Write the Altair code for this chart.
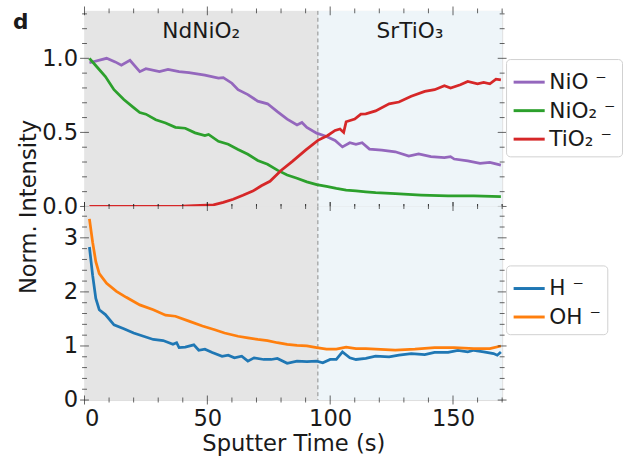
import altair as alt
import pandas as pd

# ---------------- data ----------------
nio_t = [2, 9, 12.5, 15, 18.5, 22.5, 25, 30.5, 34, 38.5, 42.5, 49, 54.5, 56.5, 60, 62.5, 66.5,
         70.5, 74.5, 78.5, 82.5, 86.5, 88.5, 90.5, 94.5, 98.5, 102, 105, 108, 110.5, 113, 116,
         121, 126.5, 132, 136, 141, 146.5, 149, 150.5, 156, 161, 165, 169.5]
nio_v = [0.97, 1.0, 0.976, 0.954, 0.987, 0.91, 0.93, 0.91, 0.925, 0.91, 0.903, 0.887, 0.866,
         0.87, 0.832, 0.788, 0.755, 0.711, 0.693, 0.64, 0.59, 0.55, 0.567, 0.534, 0.495, 0.472,
         0.446, 0.402, 0.43, 0.42, 0.43, 0.387, 0.38, 0.369, 0.34, 0.354, 0.336, 0.329, 0.336,
         0.32, 0.307, 0.291, 0.298, 0.279]

nio2_t = [2, 5, 8.5, 12, 16, 20, 22.5, 25, 29, 33, 37, 41, 45, 49, 50.5, 54.5, 58.5, 62.5, 66.5,
          70.5, 74.5, 78.5, 82.5, 86.5, 90.5, 94.5, 98.5, 102.5, 106.5, 110.5, 114.5, 118.5,
          126.5, 137, 148, 158.5, 169.5]
nio2_v = [1.0, 0.943, 0.877, 0.788, 0.722, 0.667, 0.634, 0.623, 0.585, 0.563, 0.534, 0.528,
          0.497, 0.479, 0.486, 0.44, 0.42, 0.385, 0.352, 0.31, 0.285, 0.245, 0.212, 0.19,
          0.166, 0.148, 0.135, 0.122, 0.111, 0.105, 0.099, 0.093, 0.086, 0.077, 0.071, 0.071,
          0.066]

tio2_t = [2, 20, 40, 44.5, 52.5, 56.5, 60.5, 64.5, 68.5, 72, 75.5, 80, 84.5, 90, 95, 99, 102,
          104, 105.5, 106.5, 110, 112.5, 114.5, 118.5, 124, 128, 133, 138.5, 142.5, 146.5,
          149, 153, 156, 160, 162.5, 165, 167.5, 169.5]
tio2_v = [0.0, 0.0, 0.002, 0.005, 0.011, 0.028, 0.049, 0.075, 0.104, 0.14, 0.17, 0.243, 0.303,
          0.38, 0.446, 0.479, 0.513, 0.523, 0.5, 0.572, 0.59, 0.623, 0.625, 0.645, 0.693,
          0.705, 0.744, 0.777, 0.788, 0.815, 0.8, 0.821, 0.844, 0.828, 0.837, 0.828, 0.859, 0.854]

h_t = [2, 3.3, 4.6, 6, 8.5, 12, 16, 20, 24, 28, 32, 36, 37.5, 38.5, 41, 44.5, 46.5, 49, 52, 56,
       58.5, 61, 64, 66.5, 69, 73, 76, 78.5, 82.5, 86.5, 90.5, 94.5, 97, 100, 102.5, 105, 108,
       110.5, 114.5, 118.5, 124, 128, 133, 138.5, 142.5, 148, 152, 156, 158.5, 162.5, 166.5,
       168, 169.5]
h_v = [2.83, 2.31, 1.88, 1.67, 1.58, 1.39, 1.32, 1.24, 1.18, 1.12, 1.10, 1.03, 1.06, 0.97, 0.98,
       1.02, 0.92, 0.94, 0.88, 0.81, 0.83, 0.78, 0.81, 0.72, 0.78, 0.75, 0.75, 0.77, 0.68, 0.72,
       0.71, 0.72, 0.69, 0.75, 0.75, 0.89, 0.78, 0.75, 0.77, 0.81, 0.80, 0.83, 0.86, 0.84, 0.88,
       0.88, 0.92, 0.89, 0.92, 0.89, 0.86, 0.83, 0.89]

oh_t = [2, 3.3, 4.6, 6, 9, 13, 17, 22.5, 28, 33, 37, 42.5, 48, 53, 57, 62.5, 66.5, 70.5, 74.5,
        78.5, 82.5, 86.5, 90.5, 94.5, 98.5, 102.5, 106.5, 110.5, 114.5, 118.5, 126.5, 134.5,
        142.5, 150.5, 158.5, 165, 169.5]
oh_v = [3.35, 2.92, 2.56, 2.34, 2.16, 2.01, 1.90, 1.76, 1.67, 1.57, 1.55, 1.46, 1.37, 1.30, 1.24,
        1.18, 1.15, 1.12, 1.10, 1.06, 1.03, 1.01, 1.0, 0.97, 0.94, 0.94, 0.98, 0.95, 0.95, 0.94,
        0.925, 0.94, 0.97, 0.97, 0.95, 0.95, 1.0]

top_names = ["NiO \u207b", "NiO\u2082 \u207b", "TiO\u2082 \u207b"]
bot_names = ["H \u207b", "OH \u207b"]
phase_names = ["NdNiO\u2082", "SrTiO\u2083"]
phase_edges = [0, 95, 170]

x_major = [0, 50, 100, 150]
x_minor = [10, 20, 30, 40, 60, 70, 80, 90, 110, 120, 130, 140, 160, 170]
top_major = [0.0, 0.5, 1.0]
top_minor = [0.1, 0.2, 0.3, 0.4, 0.6, 0.7, 0.8, 0.9, 1.1, 1.2, 1.3]
bot_major = [0, 1, 2, 3]
bot_minor = [0.2, 0.4, 0.6, 0.8, 1.2, 1.4, 1.6, 1.8, 2.2, 2.4, 2.6, 2.8, 3.2, 3.4]

# ---------------- styling ----------------
top_colors = ["#9467bd", "#2ca02c", "#d62728"]
bot_colors = ["#1f77b4", "#ff7f0e"]
W, H1, H2 = 425, 199, 197
FONT = "DejaVu Sans"
TXT = "#1a1a1a"
FS = 23

top_df = pd.concat([
    pd.DataFrame({"t": nio_t, "v": nio_v, "s": top_names[0]}),
    pd.DataFrame({"t": nio2_t, "v": nio2_v, "s": top_names[1]}),
    pd.DataFrame({"t": tio2_t, "v": tio2_v, "s": top_names[2]}),
])
bot_df = pd.concat([
    pd.DataFrame({"t": h_t, "v": h_v, "s": bot_names[0]}),
    pd.DataFrame({"t": oh_t, "v": oh_v, "s": bot_names[1]}),
])

xscale = alt.Scale(domain=[0, 170], nice=False, zero=False)
top_yscale = alt.Scale(domain=[0, 1.32], nice=False)
bot_yscale = alt.Scale(domain=[0, 3.58], nice=False)

bot_x_axis = alt.Axis(values=x_major, ticks=False, domain=False, grid=False, labelFontSize=FS,
                      labelPadding=8, title="Sputter Time (s)", titleFontSize=FS,
                      titleFontWeight="normal", titlePadding=2, labelColor=TXT,
                      titleColor=TXT, labelFont=FONT, titleFont=FONT)

top_y_axis = alt.Axis(values=top_major, format=".1f", ticks=False, domain=False, grid=False,
                      labelFontSize=FS, labelPadding=7, labelColor=TXT,
                      title="Norm. Intensity", titleFontSize=FS, titleFontWeight="normal",
                      titleColor=TXT, titleX=-57, titleY=H1, titleAngle=-90,
                      titleAlign="center", titleBaseline="middle", labelFont=FONT,
                      titleFont=FONT)
bot_y_axis = alt.Axis(values=bot_major, format="d", ticks=False, domain=False, grid=False,
                      labelFontSize=FS, labelPadding=7, labelColor=TXT, title=None,
                      labelFont=FONT)


def legend(y):
    return alt.Legend(orient="none", legendX=W + 4, legendY=y, title=None, labelFontSize=22,
                      labelFont=FONT, labelColor=TXT, symbolType="stroke",
                      symbolStrokeWidth=3, symbolSize=1000, strokeColor="#d0d0d0",
                      fillColor="white", padding=6, cornerRadius=4, rowPadding=0,
                      labelOffset=3)


def backgrounds(x_axis):
    gray = alt.Chart(pd.DataFrame({"a": [phase_edges[0]], "b": [phase_edges[1]]})).mark_rect(
        color="#e5e5e5").encode(x=alt.X("a:Q", scale=xscale, axis=x_axis), x2="b:Q")
    blue = alt.Chart(pd.DataFrame({"a": [phase_edges[1]], "b": [phase_edges[2]]})).mark_rect(
        color="#eef5f9").encode(x=alt.X("a:Q", scale=xscale, axis=x_axis), x2="b:Q")
    rule = alt.Chart(pd.DataFrame({"a": [phase_edges[1]]})).mark_rule(
        color="#8a8a8a", strokeDash=[4, 3], strokeWidth=1).encode(
        x=alt.X("a:Q", scale=xscale, axis=x_axis))
    return [gray, blue, rule]


def tick_layers(yscale, y_axis, y_major, y_minor, height, x_axis):
    layers = []
    for vals, size in ((y_major, 9), (y_minor, 5)):
        d = pd.DataFrame({"v": vals})
        for xpos in (0, W):
            layers.append(alt.Chart(d).mark_tick(color="#222", thickness=1, size=size).encode(
                y=alt.Y("v:Q", scale=yscale, axis=y_axis), x=alt.value(xpos)))
    for vals, size in ((x_major, 9), (x_minor, 5)):
        d = pd.DataFrame({"t": vals})
        for ypos in (0, height):
            layers.append(alt.Chart(d).mark_tick(color="#222", thickness=1, size=size).encode(
                x=alt.X("t:Q", scale=xscale, axis=x_axis), y=alt.value(ypos)))
    return layers


# ---------------- top panel ----------------
top_lines = alt.Chart(top_df).mark_line(strokeWidth=2.8).encode(
    x=alt.X("t:Q", scale=xscale, axis=None),
    y=alt.Y("v:Q", scale=top_yscale, axis=top_y_axis),
    color=alt.Color("s:N", scale=alt.Scale(domain=top_names, range=top_colors),
                    legend=legend(49), sort=top_names),
)
phase_df = pd.DataFrame({"name": phase_names,
                         "t": [(phase_edges[0] + phase_edges[1]) / 2,
                               (phase_edges[1] + phase_edges[2]) / 2]})
phase_text = alt.Chart(phase_df).mark_text(fontSize=22, font=FONT, color=TXT,
                                           baseline="middle").encode(
    x=alt.X("t:Q", scale=xscale, axis=None), y=alt.value(21), text="name:N")
panel_letter = alt.Chart(pd.DataFrame({"l": ["d"]})).mark_text(
    fontSize=22, font=FONT, fontWeight="bold", color=TXT, baseline="middle").encode(
    x=alt.value(-65), y=alt.value(11), text="l:N")

top = alt.layer(*backgrounds(None), top_lines, phase_text, panel_letter,
                *tick_layers(top_yscale, top_y_axis, top_major, top_minor, H1, None)).properties(
    width=W, height=H1)

# ---------------- bottom panel ----------------
bot_lines = alt.Chart(bot_df).mark_line(strokeWidth=2.8).encode(
    x=alt.X("t:Q", scale=xscale, axis=bot_x_axis),
    y=alt.Y("v:Q", scale=bot_yscale, axis=bot_y_axis),
    color=alt.Color("s:N", scale=alt.Scale(domain=bot_names, range=bot_colors),
                    legend=legend(60), sort=bot_names),
)
bottom = alt.layer(*backgrounds(bot_x_axis), bot_lines,
                   *tick_layers(bot_yscale, bot_y_axis, bot_major, bot_minor, H2,
                                bot_x_axis)).properties(width=W, height=H2)

chart = alt.vconcat(top, bottom, spacing=0, bounds="flush").resolve_scale(
    color="independent", y="independent").properties(
    padding={"left": 12, "top": 2, "right": 0, "bottom": 5}
).configure_view(stroke="#222", strokeWidth=1).configure(font=FONT)

chart.save("out.html", embed_options={"renderer": "svg", "actions": False})
